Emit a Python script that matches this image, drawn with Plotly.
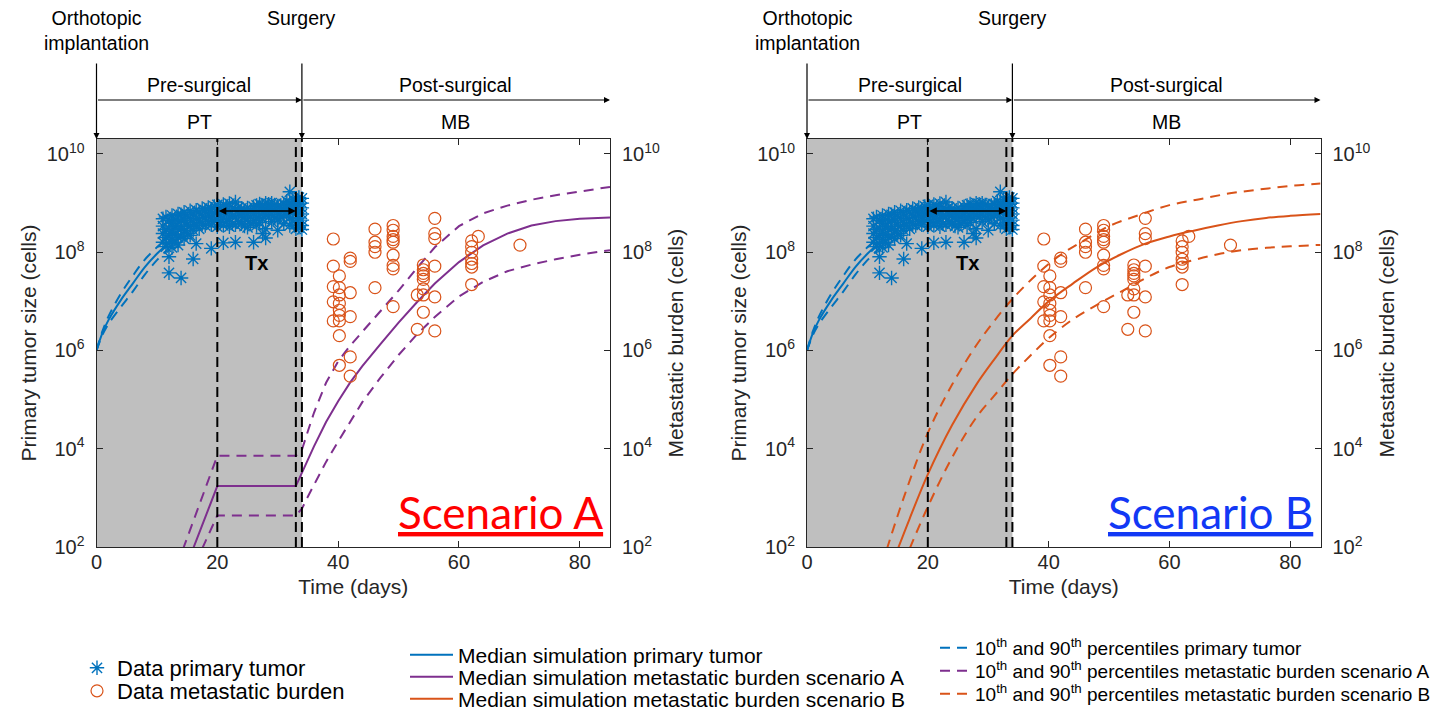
import plotly.graph_objects as go

PAGE_W, PAGE_H = 1456, 711
BODY = 8                      # default page margin before the plot div
FIG_W, FIG_H = PAGE_W - BODY, PAGE_H - BODY

# ---------------- data ----------------
implant_day = 0
surgery_day = 34
tx_days = [20, 33]              # treatment window (Tx)
event_lines = [20, 33, 34]      # dashed vertical markers
x_range = [0, 85]
x_ticks = [0, 20, 40, 60, 80]
y_tick_vals = [1e2, 1e4, 1e6, 1e8, 1e10]
y_tick_text = ["10<sup>2</sup>", "10<sup>4</sup>", "10<sup>6</sup>", "10<sup>8</sup>", "10<sup>10</sup>"]

# primary tumor observations (cells) grouped by measurement day
pt_obs_days = [11, 11.5, 12, 12.5, 13, 13.5, 14, 14.5, 15, 15.5, 16, 16.5, 17, 17.5, 18, 18.5,
               19, 19.5, 20, 20.5, 21, 21.5, 22, 22.5, 23, 23.5, 24, 24.5, 25, 25.5, 26, 26.5,
               27, 27.5, 28, 28.5, 29, 29.5, 30, 30.5, 31, 31.5, 32, 32.5, 33, 33.5, 34]
pt_obs_cells = [
    [4.8e8, 3.4e8, 2.4e8, 1.6e8],
    [5.2e8, 2.9e8, 2.0e8, 1.3e8],
    [4.4e8, 3.1e8, 2.2e8, 1.5e8, 8.1e7, 3.8e7],
    [5.6e8, 3.9e8, 2.6e8, 1.8e8, 1.25e8],
    [4.7e8, 3.3e8, 2.3e8, 1.6e8],
    [6.0e8, 4.1e8, 2.9e8, 2.0e8, 1.4e8],
    [5.8e8, 4.4e8, 3.0e8, 2.1e8, 3.0e7],
    [6.5e8, 4.3e8, 2.7e8, 1.9e8],
    [5.5e8, 3.6e8, 2.4e8],
    [7.0e8, 4.8e8, 3.3e8, 2.2e8],
    [6.0e8, 4.0e8, 2.8e8, 7.3e7],
    [7.2e8, 5.0e8, 3.5e8, 1.5e8],
    [6.6e8, 4.5e8, 3.0e8],
    [7.8e8, 5.5e8, 3.8e8],
    [7.0e8, 5.0e8, 3.5e8],
    [8.2e8, 6.0e8, 4.2e8],
    [7.5e8, 5.2e8, 3.6e8, 1.2e8],
    [8.6e8, 6.2e8, 4.4e8],
    [9.2e8, 6.5e8, 4.6e8, 3.3e8],
    [8.0e8, 5.8e8, 4.0e8],
    [9.4e8, 7.0e8, 5.0e8, 3.5e8, 1.55e8],
    [8.5e8, 6.0e8, 4.2e8],
    [9.8e8, 6.8e8, 4.8e8, 3.3e8],
    [8.0e8, 5.6e8, 3.8e8],
    [1.05e9, 7.5e8, 5.2e8, 3.6e8, 1.6e8],
    [8.2e8, 6.0e8, 4.2e8],
    [7.8e8, 5.5e8, 3.8e8],
    [7.0e8, 5.0e8, 3.4e8],
    [8.0e8, 6.0e8, 4.5e8, 3.2e8],
    [7.2e8, 5.2e8, 3.8e8],
    [8.5e8, 6.2e8, 4.4e8, 1.6e8],
    [9.0e8, 7.0e8, 5.0e8, 3.5e8],
    [9.6e8, 7.5e8, 5.5e8, 4.0e8],
    [9.0e8, 6.8e8, 4.8e8, 2.4e8],
    [1.0e9, 7.8e8, 5.8e8, 3.0e8, 1.95e8],
    [9.5e8, 7.2e8, 5.2e8],
    [1.0e9, 8.0e8, 6.0e8, 4.2e8],
    [9.2e8, 7.0e8, 5.0e8],
    [8.8e8, 6.5e8, 4.5e8, 2.8e8],
    [9.0e8, 7.0e8, 5.2e8],
    [9.5e8, 7.2e8, 5.5e8, 3.8e8],
    [1.1e9, 8.0e8, 6.0e8],
    [1.7e9, 1.0e9, 7.5e8, 5.0e8, 3.5e8],
    [1.2e9, 9.0e8, 6.5e8, 4.5e8],
    [1.1e9, 8.5e8, 6.0e8, 4.0e8, 3.0e8],
    [1.3e9, 9.5e8, 7.0e8, 5.0e8, 3.2e8],
    [1.25e9, 1.0e9, 8.0e8, 6.0e8, 4.5e8, 3.5e8, 2.9e8],
]

# metastatic burden observations (cells) grouped by day
mb_obs_days = [39.2, 40.2, 42.0, 46.1, 49.1, 53.1, 54.1, 56.0, 62.1, 63.2, 70.1]
mb_obs_cells = [
    [1.86e8, 5.2e7, 2.0e7, 9.8e6, 4.0e6],
    [3.3e7, 1.9e7, 1.35e7, 9.1e6, 6.6e6, 5.2e6, 4.0e6, 2.0e6, 5.0e5],
    [7.6e7, 6.5e7, 1.5e7, 4.9e6, 7.4e5, 3.0e5],
    [2.95e8, 1.6e8, 1.3e8, 1.0e8, 1.9e7],
    [3.5e8, 2.8e8, 2.1e8, 1.8e8, 1.6e8, 8.7e7, 5.4e7, 4.6e7, 7.8e6],
    [1.35e7, 2.7e6],
    [5.5e7, 4.4e7, 3.7e7, 3.3e7, 2.8e7, 1.8e7, 1.35e7, 6.0e6],
    [4.9e8, 2.4e8, 1.9e8, 5.2e7, 1.23e7, 2.5e6],
    [1.7e8, 1.3e8, 1.0e8, 7.2e7, 5.9e7, 5.0e7, 2.2e7],
    [2.1e8],
    [1.4e8],
]

# simulated primary tumor (median, 90th, 10th percentile)
sim_pt_days = [0, 1, 2, 4, 6, 8, 10, 12]
sim_pt_med = [1.0e6, 2.3e6, 4.2e6, 1.05e7, 2.3e7, 5.0e7, 9.3e7, 1.58e8]
sim_pt_p90 = [1.0e6, 2.5e6, 5.0e6, 1.41e7, 3.3e7, 7.1e7, 1.26e8, 2.1e8]
sim_pt_p10 = [1.0e6, 2.1e6, 3.5e6, 7.6e6, 1.58e7, 3.5e7, 6.9e7, 1.2e8]

# scenario A metastatic burden
simA_post_days = [34, 35, 36, 38, 40, 42, 44, 47, 50, 53, 56, 60, 64, 68, 72, 76, 80, 85]
simA_med_days = [16, 20, 33] + simA_post_days
simA_med = [93, 1.74e3, 1.74e3,
            3.3e3, 6.2e3, 1.12e4, 3.5e4, 9.3e4, 2.24e5, 4.8e5, 1.35e6, 3.7e6, 9.5e6, 2.3e7,
            6.3e7, 1.38e8, 2.4e8, 3.5e8, 4.3e8, 4.8e8, 5.1e8]
simA_p90_days = [14.3, 20, 33] + simA_post_days
simA_p90 = [89, 7.2e3, 7.2e3,
            9.5e3, 2.3e4, 5.4e4, 2.2e5, 6.0e5, 1.26e6, 2.4e6, 6.3e6, 1.66e7, 4.7e7, 1.26e8,
            3.4e8, 6.2e8, 8.9e8, 1.17e9, 1.45e9, 1.74e9, 2.14e9]
simA_p10_days = [17.5, 20, 33] + simA_post_days
simA_p10 = [93, 4.4e2, 4.4e2,
            6.0e2, 1.07e3, 1.86e3, 5.4e3, 1.41e4, 3.5e4, 8.9e4, 2.8e5, 8.1e5, 2.1e6, 4.8e6,
            1.26e7, 2.5e7, 4.1e7, 5.6e7, 7.2e7, 8.9e7, 1.1e8]

# scenario B metastatic burden
simB_med_days = [15, 17, 20, 24, 28, 31, 34, 37, 40, 44, 48, 52, 56, 60, 64, 68, 72, 76, 80, 85]
simB_med = [89, 3.8e2, 3.0e3, 3.0e4, 2.0e5, 6.6e5, 2.0e6, 4.5e6, 1.0e7, 2.3e7, 5.0e7, 9.1e7,
            1.5e8, 2.1e8, 2.75e8, 3.5e8, 4.3e8, 5.0e8, 5.5e8, 6.0e8]
simB_p90_days = [13.2, 16, 20, 24, 28, 31, 34, 38, 42, 46, 50, 55, 60, 65, 70, 75, 80, 85]
simB_p90 = [89, 1.0e3, 2.1e4, 2.0e5, 1.26e6, 4.0e6, 1.12e7, 3.5e7, 8.9e7, 1.78e8, 3.4e8, 5.75e8,
            9.1e8, 1.2e9, 1.58e9, 1.9e9, 2.24e9, 2.5e9]
simB_p10_days = [17, 20, 24, 28, 31, 34, 37, 40, 44, 48, 52, 56, 60, 64, 68, 72, 76, 80, 85]
simB_p10 = [93, 6.6e2, 6.6e3, 4.3e4, 1.2e5, 3.3e5, 7.9e5, 1.78e6, 4.3e6, 8.5e6, 1.58e7, 2.95e7,
            5.0e7, 6.9e7, 9.1e7, 1.1e8, 1.23e8, 1.32e8, 1.41e8]

# ---------------- styling ----------------
BLUE, PURPLE, ORANGE = "#0072BD", "#7E2F8E", "#D95319"
AX = "#262626"
FONT = "Liberation Sans"
DASH = "10px,7px"


def flat(days, groups):
    xs, ys = [], []
    for d, g in zip(days, groups):
        xs += [d] * len(g)
        ys += list(g)
    return xs, ys


pt_x, pt_y = flat(pt_obs_days, pt_obs_cells)
mb_x, mb_y = flat(mb_obs_days, mb_obs_cells)


# page pixel geometry -> paper fractions (figure margins are zero)
def px(x):
    return (x - BODY) / FIG_W


def py(y):
    return 1 - (y - BODY) / FIG_H


PANEL_L = [96.5, 610.0]
PANEL_R = [807.0, 1320.5]
PLOT_TOP, PLOT_BOT = 139.0, 547.0
Y_RANGE = [2, 10.305]

fig = go.Figure()


def add_panel(xa, ya_pt, ya_mb, med_days, med, p90_days, p90, p10_days, p10, color, shape, first):
    xs = dict(xaxis=xa)
    fig.add_trace(go.Scatter(x=sim_pt_days, y=sim_pt_p90, mode="lines", yaxis=ya_pt, **xs,
                             line=dict(color=BLUE, width=2, dash=DASH, shape="spline"),
                             name="10<sup>th</sup> and 90<sup>th</sup> percentiles primary tumor",
                             legend="legend6", legendgroup="ptp", showlegend=first))
    fig.add_trace(go.Scatter(x=sim_pt_days, y=sim_pt_p10, mode="lines", yaxis=ya_pt, **xs,
                             line=dict(color=BLUE, width=2, dash=DASH, shape="spline"),
                             legendgroup="ptp", showlegend=False))
    fig.add_trace(go.Scatter(x=sim_pt_days, y=sim_pt_med, mode="lines", yaxis=ya_pt, **xs,
                             line=dict(color=BLUE, width=2, shape="spline"),
                             name="Median simulation primary tumor",
                             legend="legend3", showlegend=first))
    scen = "A" if first else "B"
    fig.add_trace(go.Scatter(x=p90_days, y=p90, mode="lines", yaxis=ya_mb, **xs,
                             line=dict(color=color, width=2, dash=DASH, shape=shape),
                             name="10<sup>th</sup> and 90<sup>th</sup> percentiles metastatic burden scenario " + scen,
                             legend="legend7" if first else "legend8", legendgroup="p" + scen, showlegend=True))
    fig.add_trace(go.Scatter(x=p10_days, y=p10, mode="lines", yaxis=ya_mb, **xs,
                             line=dict(color=color, width=2, dash=DASH, shape=shape),
                             legendgroup="p" + scen, showlegend=False))
    fig.add_trace(go.Scatter(x=med_days, y=med, mode="lines", yaxis=ya_mb, **xs,
                             line=dict(color=color, width=2, shape=shape),
                             name="Median simulation metastatic burden scenario " + scen,
                             legend="legend4" if first else "legend5", showlegend=True))
    fig.add_trace(go.Scatter(x=pt_x, y=pt_y, mode="markers", yaxis=ya_pt, **xs,
                             marker=dict(symbol="asterisk-open", size=12, color=BLUE,
                                         line=dict(color=BLUE, width=1.4)),
                             name="Data primary tumor", legend="legend", showlegend=first))
    fig.add_trace(go.Scatter(x=mb_x, y=mb_y, mode="markers", yaxis=ya_mb, **xs,
                             marker=dict(symbol="circle-open", size=12, color=ORANGE,
                                         line=dict(color=ORANGE, width=1.2)),
                             name="Data metastatic burden", legend="legend2", showlegend=first))


add_panel("x", "y", "y2", simA_med_days, simA_med, simA_p90_days, simA_p90,
          simA_p10_days, simA_p10, PURPLE, "linear", True)
add_panel("x2", "y3", "y4", simB_med_days, simB_med, simB_p90_days, simB_p90,
          simB_p10_days, simB_p10, ORANGE, "spline", False)

tickfont = dict(family=FONT, size=20, color=AX)
titlefont = dict(family=FONT, size=21, color=AX)
ydom = [py(PLOT_BOT), py(PLOT_TOP)]


def xaxis(dom, anchor):
    return dict(domain=[px(dom[0]), px(dom[1])], anchor=anchor, range=x_range,
                tickvals=x_ticks, ticks="inside", ticklen=6, tickcolor=AX,
                showline=True, linecolor=AX, linewidth=1, mirror="ticks",
                showgrid=False, zeroline=False, tickfont=tickfont, ticklabelstandoff=-3,
                title=dict(text="Time (days)", font=titlefont, standoff=7), automargin=False)


def yaxis(anchor, title, side="left", overlay=None):
    d = dict(type="log", range=Y_RANGE, anchor=anchor, side=side,
             tickvals=y_tick_vals, ticktext=y_tick_text, ticks="inside", ticklen=6,
             tickcolor=AX, showline=True, linecolor=AX, linewidth=1, showgrid=False,
             zeroline=False, tickfont=tickfont, ticklabelstandoff=7,
             title=dict(text=title, font=titlefont, standoff=4 if side == "left" else 9),
             automargin=False)
    if overlay:
        d["overlaying"] = overlay
    else:
        d["domain"] = ydom
    return d


shapes = []
annotations = []
hf = dict(family=FONT, size=19.5, color="black")


def label(xa, x, ypx, text):
    return dict(xref=xa, yref="paper", x=x, y=py(ypx), text=text, showarrow=False,
                xanchor="center", yanchor="middle", font=hf)


for xa, ya in [("x", "y"), ("x2", "y3")]:
    shapes.append(dict(type="rect", xref=xa, yref=ya + " domain", x0=implant_day, x1=surgery_day,
                       y0=0, y1=1, fillcolor="#bfbfbf", line=dict(width=0), layer="below"))
    for d in event_lines:
        shapes.append(dict(type="line", xref=xa, yref=ya + " domain", x0=d, x1=d, y0=0, y1=1,
                           line=dict(color="black", width=2, dash="10px,5px"), layer="above"))
    # Tx double arrow (log axis -> annotation y in log10 units)
    annotations.append(dict(xref=xa, yref=ya, x=tx_days[1], y=8.84, axref=xa, ayref=ya,
                            ax=tx_days[0], ay=8.84, text="", showarrow=True, arrowside="end+start",
                            arrowhead=2, arrowsize=1, arrowwidth=1.5, arrowcolor="black"))
    annotations.append(dict(xref=xa, yref=ya, x=(tx_days[0] + tx_days[1]) / 2, y=7.78,
                            text="<b>Tx</b>", showarrow=False, xanchor="center", yanchor="middle",
                            font=dict(family=FONT, size=20, color="black")))
    # timeline header
    top = py(PLOT_TOP)
    for day in [implant_day, surgery_day]:
        annotations.append(dict(xref=xa, yref="paper", x=day, y=top, ax=0, ay=-77, text="",
                                showarrow=True, arrowhead=2, arrowsize=1, arrowwidth=1.2,
                                arrowcolor="black"))
    annotations.append(dict(xref=xa, yref="paper", x=surgery_day, y=py(100), axref=xa,
                            ax=implant_day, ay=0, text="", showarrow=True, arrowhead=2,
                            arrowsize=1, arrowwidth=1.2, arrowcolor="black"))
    annotations.append(dict(xref=xa, yref="paper", x=x_range[1], y=py(100), axref=xa,
                            ax=surgery_day, ay=0, text="", showarrow=True, arrowhead=2,
                            arrowsize=1, arrowwidth=1.2, arrowcolor="black"))
    annotations.append(label(xa, implant_day, 31, "Orthotopic<br>implantation"))
    annotations.append(label(xa, surgery_day, 18, "Surgery"))
    mid_pre = (implant_day + surgery_day) / 2
    mid_post = (surgery_day + x_range[1]) / 2
    annotations.append(label(xa, mid_pre, 85, "Pre-surgical"))
    annotations.append(label(xa, mid_pre, 122, "PT"))
    annotations.append(label(xa, mid_post, 85, "Post-surgical"))
    annotations.append(label(xa, mid_post, 122, "MB"))

annotations.append(dict(xref="x domain", yref="y domain", x=0.99, y=0.086, xanchor="right",
                        yanchor="middle", text="<u>Scenario A</u>", showarrow=False,
                        font=dict(family="Lato", size=44, color="#FF0000")))
annotations.append(dict(xref="x2 domain", yref="y3 domain", x=0.99, y=0.086, xanchor="right",
                        yanchor="middle", text="<u>Scenario B</u>", showarrow=False,
                        font=dict(family="Lato", size=44, color="#1238F5")))


def leg(xp, yp, size, iw):
    return dict(x=px(xp), y=py(yp), xanchor="left", yanchor="middle", bgcolor="rgba(0,0,0,0)",
                borderwidth=0, itemwidth=iw, font=dict(family=FONT, size=size, color="black"),
                itemclick=False, itemdoubleclick=False)


fig.update_layout(
    width=FIG_W, height=FIG_H,
    margin=dict(l=0, r=0, t=0, b=0, pad=0, autoexpand=False),
    paper_bgcolor="white", plot_bgcolor="white",
    xaxis=xaxis(PANEL_L, "y"),
    yaxis=yaxis("x", "Primary tumor size (cells)"),
    yaxis2=yaxis("x", "Metastatic burden (cells)", side="right", overlay="y"),
    xaxis2=xaxis(PANEL_R, "y3"),
    yaxis3=yaxis("x2", "Primary tumor size (cells)"),
    yaxis4=yaxis("x2", "Metastatic burden (cells)", side="right", overlay="y3"),
    shapes=shapes,
    annotations=annotations,
    legend=leg(77, 668, 22, 30),
    legend2=leg(77, 691, 22, 30),
    legend3=leg(405, 655, 21, 43),
    legend4=leg(405, 677, 21, 43),
    legend5=leg(405, 699, 21, 43),
    legend6=leg(935, 648, 19, 30),
    legend7=leg(935, 671, 19, 30),
    legend8=leg(935, 694, 19, 30),
)

fig.write_html("out.html")
